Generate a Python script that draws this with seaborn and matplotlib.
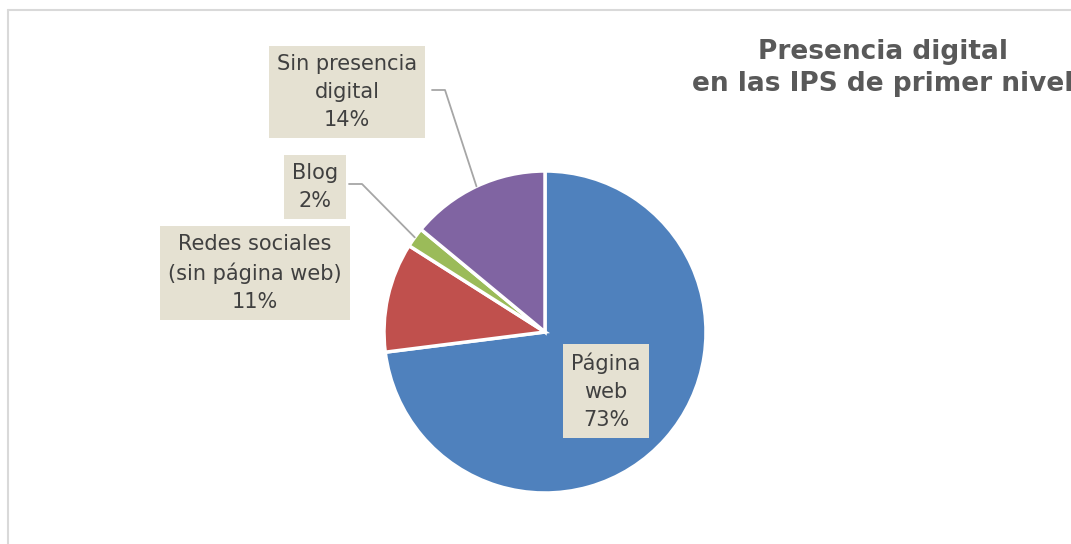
import numpy as np
import seaborn as sns
import matplotlib.pyplot as plt
from matplotlib.lines import Line2D

sns.set_theme(style='white')
plt.rcParams['font.family'] = ['DejaVu Sans']

# datos del gráfico
categorias = ['Página\nweb', 'Redes sociales\n(sin página web)', 'Blog', 'Sin presencia\ndigital']
porcentajes = [73, 11, 2, 14]
colores = ['#4F81BD', '#C0504D', '#9BBB59', '#8064A2']
titulo = 'Presencia digital\nen las IPS de primer nivel'

W, H = 1071, 544
fig = plt.figure(figsize=(W / 100, H / 100), dpi=100)
ax = fig.add_axes([0, 0, 1, 1])

cx, cy, r = 545, H - 332, 161
wedges, _ = ax.pie(porcentajes, colors=colores, startangle=90, counterclock=False,
                   center=(cx, cy), radius=r,
                   wedgeprops=dict(edgecolor='white', linewidth=2.5))
ax.set_xlim(0, W)
ax.set_ylim(0, H)
ax.set_aspect('equal')
ax.axis('off')

# marco del gráfico
fig.add_artist(Line2D([8 / W, 8 / W], [0, 1 - 10 / H], color='#D9D9D9', lw=1.5))
fig.add_artist(Line2D([8 / W, 1], [1 - 10 / H, 1 - 10 / H], color='#D9D9D9', lw=1.5))

# etiquetas: posición del centro de la caja (px)
pos_etiquetas = [(606, 391), (255, 273), (315, 187), (347, 92)]
caja = dict(boxstyle='square,pad=0.4', facecolor='#E5E1D2', edgecolor='none')
for i, (nombre, p) in enumerate(zip(categorias, porcentajes)):
    x, y = pos_etiquetas[i]
    ax.text(x, H - y, f'{nombre}\n{p}%', ha='center', va='center', fontsize=15,
            color='#404040', linespacing=1.5, bbox=caja, zorder=5)

# líneas guía para Blog y Sin presencia digital
guias = {2: (349, 184), 3: (432, 90)}
for i, (bx, by) in guias.items():
    w = wedges[i]
    ang = np.deg2rad((w.theta1 + w.theta2) / 2)
    px, py = cx + r * np.cos(ang), cy + r * np.sin(ang)
    ax.plot([bx, bx + 13, px], [H - by, H - by, py], color='#A6A6A6', lw=1.3, zorder=4)

fig.text(883 / W, 1 - 68 / H, titulo, ha='center', va='center', fontsize=19,
         fontweight='bold', color='#595959', linespacing=1.3)

fig.savefig('out.png', dpi=100, facecolor='white')
